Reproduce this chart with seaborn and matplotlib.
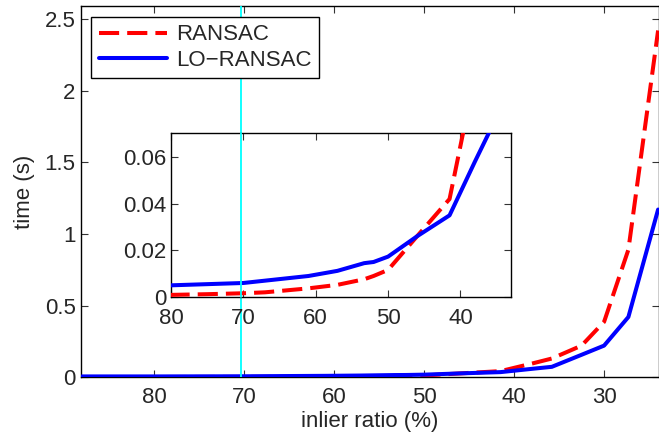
import matplotlib
matplotlib.use("Agg")
import matplotlib.pyplot as plt
import matplotlib.transforms as mtransforms
from matplotlib.lines import Line2D
import seaborn as sns
import pandas as pd

# ---- data ----
inlier_ratio = [88, 80, 75, 70, 67, 61, 57, 53.3, 52, 50, 46, 41.5, 38, 35.8, 32.5, 30, 27.3, 24]
ransac_time = [0.0008, 0.0009, 0.0012, 0.0016, 0.002, 0.0037, 0.0052, 0.0076, 0.009, 0.0116,
               0.026, 0.042, 0.095, 0.13, 0.22, 0.386, 0.89, 2.42]
lo_ransac_time = [0.005, 0.005, 0.0055, 0.006, 0.007, 0.009, 0.0112, 0.0145, 0.015, 0.0173,
                  0.026, 0.035, 0.058, 0.072, 0.156, 0.22, 0.42, 1.17]
series_names = ["RANSAC", "LO\u2212RANSAC"]
main_xticks = [80, 70, 60, 50, 40, 30]
main_yticks = [0, 0.5, 1, 1.5, 2, 2.5]
main_yticklabels = ["0", "0.5", "1", "1.5", "2", "2.5"]
inset_xticks = [80, 70, 60, 50, 40]
inset_yticks = [0, 0.02, 0.04, 0.06]
inset_yticklabels = ["0", "0.02", "0.04", "0.06"]
marker_x = 70.3

df = pd.DataFrame({"ratio": inlier_ratio, "RANSAC": ransac_time, "LO": lo_ransac_time})

sns.set_style("ticks")
plt.rcParams["font.family"] = ["Liberation Sans", "DejaVu Sans"]
plt.rcParams["axes.linewidth"] = 1.0
plt.rcParams["xtick.direction"] = "in"
plt.rcParams["ytick.direction"] = "in"
plt.rcParams["xtick.top"] = True
plt.rcParams["ytick.right"] = True

FS = 16
fig = plt.figure(figsize=(6.59, 4.37), dpi=100)
ax = fig.add_axes([0.123, 0.137, 0.877, 0.849])

lw = 2.9
dash = (5, 2)

def draw(a):
    sns.lineplot(data=df, x="ratio", y="RANSAC", ax=a, color="#ff0000", lw=lw,
                 sort=False, estimator=None, linestyle=(0, dash), zorder=3)
    sns.lineplot(data=df, x="ratio", y="LO", ax=a, color="#0000ff", lw=lw,
                 sort=False, estimator=None, zorder=4)

draw(ax)
ax.set_xlim(88.1, 23.9)
ax.set_ylim(0, 2.59)
ax.set_xticks(main_xticks)
ax.set_yticks(main_yticks)
ax.set_yticklabels(main_yticklabels)
ax.tick_params(labelsize=FS, length=5, width=0.8, color="#333333")
ax.tick_params(axis="x", pad=7)
ax.tick_params(axis="y", pad=4)
ax.set_xlabel("inlier ratio (%)", fontsize=FS, labelpad=2)
ax.set_ylabel("time (s)", fontsize=FS, labelpad=7)
ax.axvline(marker_x, color="cyan", lw=1.3, zorder=5)
for s in ax.spines.values():
    s.set_color("black")

handles = [Line2D([], [], color="#ff0000", lw=lw, linestyle=(0, dash)),
           Line2D([], [], color="#0000ff", lw=lw)]
leg = ax.legend(handles, series_names, loc="upper left", fontsize=FS,
                bbox_to_anchor=(0.018, 0.97), handlelength=3.1, handletextpad=0.4,
                borderpad=0.32, labelspacing=0.22, borderaxespad=0.0, fancybox=False,
                framealpha=1, edgecolor="black")
leg.get_frame().set_linewidth(1.0)

axin = fig.add_axes([0.2595, 0.3204, 0.516, 0.3753])
draw(axin)
axin.set_xlim(80, 33)
axin.set_ylim(0, 0.0703)
axin.set_xticks(inset_xticks)
axin.set_yticks(inset_yticks)
axin.set_yticklabels(inset_yticklabels)
axin.tick_params(labelsize=FS, length=5, width=0.8, color="#333333")
axin.tick_params(axis="x", pad=8)
axin.tick_params(axis="y", pad=3)
axin.set_xlabel("")
axin.set_ylabel("")
for s in axin.spines.values():
    s.set_color("black")

trans = mtransforms.blended_transform_factory(ax.transData, axin.transAxes)
axin.add_line(Line2D([marker_x, marker_x], [0, 1], transform=trans, color="cyan",
                     lw=1.3, zorder=6, clip_on=False))

fig.savefig("out.png", dpi=100, facecolor="white")
